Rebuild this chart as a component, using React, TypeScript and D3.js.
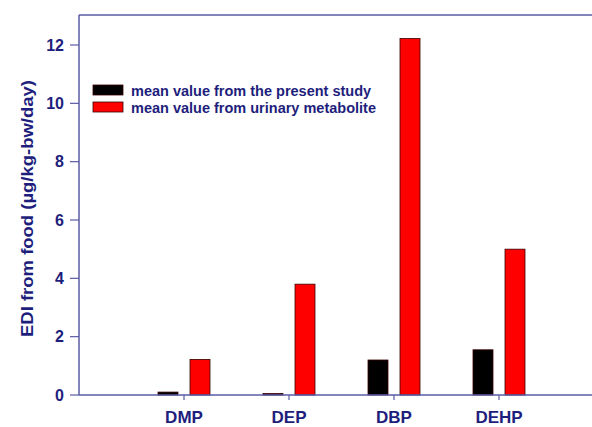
import React from "react";
import * as d3 from "d3";

const categories = ["DMP", "DEP", "DBP", "DEHP"];
const seriesNames = ["mean value from the present study", "mean value from urinary metabolite"];
const presentStudy = [0.1, 0.05, 1.2, 1.55];
const urinary = [1.22, 3.8, 12.22, 5.0];
const yTicks = [0, 2, 4, 6, 8, 10, 12];
const colors = ["#000000", "#ff0000"];

const W = 592, H = 427;
const axisColor = "#5b5ba6";
const textColor = "#1e1e7c";
const font = "Arial, 'Liberation Sans', sans-serif";

export default function App() {
  const x = d3.scaleLinear().domain([0, 5]).range([79, 604]);
  const y = d3.scaleLinear().domain([0, 12]).range([395, 45]);
  const yTop = y(13.03);
  const barW = 20;
  const offset = 16;
  const series = [presentStudy, urinary];
  return (
    <svg width={W} height={H} style={{ position: "absolute", left: 0, top: 0, background: "#fff" }}>
      {/* frame */}
      <line x1={x(0)} x2={W} y1={yTop} y2={yTop} stroke={axisColor} strokeWidth={1.5} />
      <line x1={x(0)} x2={x(0)} y1={yTop} y2={y(0)} stroke={axisColor} strokeWidth={1.5} />
      {/* bars */}
      {categories.map((c, i) =>
        series.map((s, j) => {
          const cx = x(i + 1) + (j === 0 ? -offset : offset);
          return (
            <rect key={c + j} x={cx - barW / 2} y={y(s[i])} width={barW} height={y(0) - y(s[i])}
              fill={colors[j]} stroke="#3a0000" strokeWidth={0.8} />
          );
        })
      )}
      <line x1={x(0)} x2={W} y1={y(0)} y2={y(0)} stroke={axisColor} strokeWidth={1.5} />
      {/* y ticks */}
      {yTicks.map((t) => (
        <g key={t}>
          <line x1={x(0) - 9} x2={x(0)} y1={y(t)} y2={y(t)} stroke={axisColor} strokeWidth={1.2} />
          <text x={64} y={y(t)} dy="0.36em" textAnchor="end" fontFamily={font} fontWeight="bold" fontSize={16} fill={textColor}>{t}</text>
        </g>
      ))}
      {/* x ticks */}
      {categories.map((c, i) => (
        <g key={c}>
          <line x1={x(i + 1)} x2={x(i + 1)} y1={y(0)} y2={y(0) + 5} stroke={axisColor} strokeWidth={1.2} />
          <text x={x(i + 1)} y={423} textAnchor="middle" fontFamily={font} fontWeight="bold" fontSize={17} fill={textColor}>{c}</text>
        </g>
      ))}
      {/* y title */}
      <text transform={`translate(33,208.5) rotate(-90)`} textAnchor="middle" fontFamily={font} fontWeight="bold" fontSize={16.5} fill={textColor}
        textLength={257} lengthAdjust="spacingAndGlyphs">
        EDI from food (µg/kg-bw/day)
      </text>
      {/* legend */}
      {seriesNames.map((n, j) => (
        <g key={n} transform={`translate(93,${85 + j * 17})`}>
          <rect x={0} y={0} width={30} height={10} fill={colors[j]} stroke="#3a0000" strokeWidth={0.8} />
          <text x={38} y={10.5} fontFamily={font} fontWeight="bold" fontSize={14.5} fill={textColor}>{n}</text>
        </g>
      ))}
    </svg>
  );
}
